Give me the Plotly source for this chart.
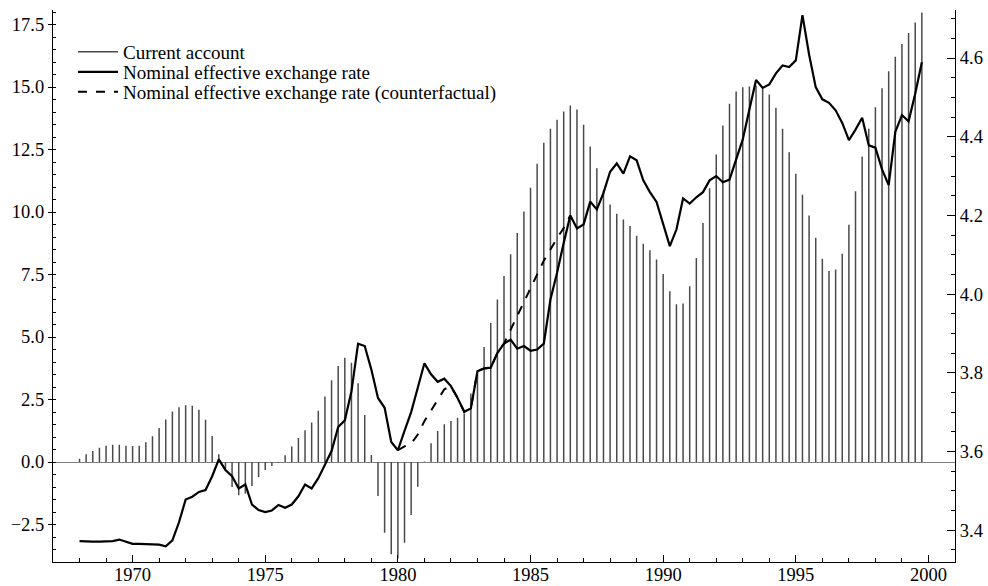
import plotly.graph_objects as go

start_year = 1968
current_account = [
    0.13, 0.31, 0.44, 0.57,
    0.65, 0.69, 0.69, 0.65,
    0.64, 0.65, 0.79, 1.03,
    1.36, 1.70, 2.02, 2.19,
    2.27, 2.25, 2.09, 1.69,
    1.04, 0.31, -0.35, -1.00,
    -1.33, -1.27, -0.96, -0.60,
    -0.32, -0.16, -0.03, 0.27,
    0.62, 0.96, 1.27, 1.58,
    2.05, 2.62, 3.27, 3.84,
    4.17, 3.97, 3.15, 1.88,
    0.28, -1.36, -2.83, -3.69,
    -3.85, -3.23, -2.12, -0.99,
    0.02, 0.75, 1.24, 1.51,
    1.64, 1.77, 1.95, 2.74,
    3.65, 4.60, 5.56, 6.50,
    7.44, 8.31, 9.16, 10.02,
    10.97, 11.93, 12.77, 13.33,
    13.69, 14.02, 14.26, 14.10,
    13.49, 12.62, 11.75, 10.86,
    10.30, 9.93, 9.70, 9.44,
    9.05, 8.73, 8.47, 8.10,
    7.52, 6.83, 6.31, 6.34,
    7.03, 8.16, 9.56, 10.95,
    12.30, 13.46, 14.33, 14.82,
    14.99, 15.02, 15.06, 14.92,
    14.70, 14.17, 13.33, 12.39,
    11.53, 10.69, 9.86, 8.97,
    8.13, 7.64, 7.70, 8.33,
    9.49, 10.83, 12.22, 13.33,
    14.19, 14.95, 15.63, 16.21,
    16.72, 17.16, 17.58, 17.98,
]
neer = [
    3.372, 3.371, 3.371, 3.371,
    3.371, 3.372, 3.376, 3.370,
    3.365, 3.365, 3.364, 3.364,
    3.363, 3.359, 3.374, 3.420,
    3.478, 3.485, 3.497, 3.502,
    3.537, 3.580, 3.553, 3.537,
    3.506, 3.516, 3.465, 3.451,
    3.446, 3.450, 3.464, 3.457,
    3.465, 3.486, 3.516, 3.506,
    3.532, 3.566, 3.601, 3.662,
    3.679, 3.753, 3.874, 3.868,
    3.808, 3.736, 3.711, 3.624,
    3.603, 3.652, 3.700, 3.762,
    3.824, 3.796, 3.777, 3.785,
    3.766, 3.736, 3.701, 3.709,
    3.804, 3.811, 3.813, 3.850,
    3.874, 3.884, 3.861, 3.868,
    3.856, 3.859, 3.874, 3.986,
    4.054, 4.130, 4.200, 4.167,
    4.177, 4.235, 4.215, 4.257,
    4.311, 4.332, 4.306, 4.350,
    4.340, 4.289, 4.259, 4.234,
    4.180, 4.122, 4.164, 4.243,
    4.230, 4.246, 4.259, 4.289,
    4.300, 4.284, 4.291, 4.342,
    4.393, 4.469, 4.544, 4.524,
    4.533, 4.561, 4.581, 4.577,
    4.594, 4.709, 4.609, 4.526,
    4.495, 4.486, 4.467, 4.435,
    4.391, 4.418, 4.448, 4.378,
    4.372, 4.317, 4.277, 4.412,
    4.455, 4.439, 4.509, 4.589,
]
cf_start_year = 1980
neer_counterfactual = [
    3.603, 3.613, 3.620, 3.643,
    3.677, 3.704, 3.732, 3.758,
    3.766, 3.736, 3.701, 3.709,
    3.804, 3.811, 3.813, 3.850,
    3.874, 3.910, 3.945, 3.980,
    4.015, 4.050, 4.085, 4.115,
    4.142, 4.168, 4.200,
]
x_ticks = [1970, 1975, 1980, 1985, 1990, 1995, 2000]
legend_labels = ["Current account", "Nominal effective exchange rate",
                 "Nominal effective exchange rate (counterfactual)"]

quarters = [start_year + i / 4 for i in range(len(current_account))]
cf_quarters = [cf_start_year + i / 4 for i in range(len(neer_counterfactual))]

# vertical spikes for current account
spike_x, spike_y = [], []
for q, v in zip(quarters, current_account):
    spike_x += [q, q, None]
    spike_y += [0, v, None]

FONT = "Liberation Serif, Times New Roman, serif"
fig = go.Figure()
fig.add_trace(go.Scatter(x=spike_x, y=spike_y, mode="lines", name=legend_labels[0],
                         line=dict(color="#4a4a4a", width=1.5), legend="legend"))
fig.add_trace(go.Scatter(x=quarters, y=neer, mode="lines", name=legend_labels[1],
                         line=dict(color="black", width=2.2), yaxis="y2", legend="legend2"))
fig.add_trace(go.Scatter(x=cf_quarters, y=neer_counterfactual, mode="lines", name=legend_labels[2],
                         line=dict(color="black", width=2.0, dash="dash"), yaxis="y2", legend="legend3"))

L, R, T, B = 53, 955, 10, 562
W, H = 988, 586
def px(xp):
    return (xp - L) / (R - L)
def py(yp):
    return (B - yp) / (B - T)

leg_common = dict(font=dict(family=FONT, size=19, color="black"), bgcolor="rgba(0,0,0,0)",
                  itemwidth=40, xanchor="left", yanchor="middle", borderwidth=0)
fig.update_layout(
    width=W, height=H,
    margin=dict(l=L, r=W - R, t=T, b=H - B),
    paper_bgcolor="white", plot_bgcolor="white",
    font=dict(family=FONT, size=19, color="black"),
    showlegend=True,
    legend=dict(x=px(73), y=py(52), **leg_common),
    legend2=dict(x=px(73), y=py(72), **leg_common),
    legend3=dict(x=px(73), y=py(92), **leg_common),
    xaxis=dict(range=[1967, 2001], tickvals=x_ticks, ticks="inside", ticklen=7,
               tickcolor="black", showline=True, linecolor="black", linewidth=1.2,
               showgrid=False, zeroline=False, automargin=False, ticklabelstandoff=-4,
               minor=dict(dtick=1, ticks="inside", ticklen=3.5, tickcolor="black"),
               tickfont=dict(size=18.5)),
    yaxis=dict(range=[-4.0, 18.08], dtick=2.5, tick0=0, tickformat=".1f", ticks="outside",
               ticklen=4, tickcolor="black", showline=True, linecolor="black", linewidth=1.2,
               showgrid=False, zeroline=True, zerolinecolor="#808080", zerolinewidth=1.3,
               automargin=False,
               minor=dict(dtick=0.5, ticks="inside", ticklen=3, tickcolor="black"),
               tickfont=dict(size=18.5)),
    yaxis2=dict(range=[3.319, 4.722], dtick=0.2, tick0=3.4, tickformat=".1f", ticks="inside",
                ticklen=8, tickcolor="black", overlaying="y", side="right", anchor="x",
                showline=True, linecolor="black", linewidth=1.2, showgrid=False, zeroline=False,
                automargin=False,
                minor=dict(dtick=0.05, ticks="inside", ticklen=3.5, tickcolor="black"),
                tickfont=dict(size=18.5)),
)
fig.write_html("out.html", config={"displayModeBar": False},
               post_script="document.body.style.margin='0';document.body.style.overflow='hidden';")
